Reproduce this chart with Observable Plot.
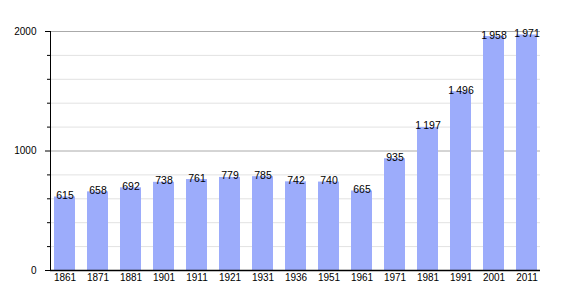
<!DOCTYPE html>
<html>
<head>
<meta charset="utf-8">
<script src="https://cdn.jsdelivr.net/npm/d3@7"></script>
<script src="https://cdn.jsdelivr.net/npm/@observablehq/plot@0.6"></script>
<style>
  html, body { margin: 0; padding: 0; background: #fff; }
  #chart svg { display: block; }
</style>
</head>
<body>
<div id="chart"></div>
<script>
const years = ["1861","1871","1881","1901","1911","1921","1931","1936","1951","1961","1971","1981","1991","2001","2011"];
const population = [615,658,692,738,761,779,785,742,740,665,935,1197,1496,1958,1971];
const majorTicks = [0, 1000, 2000];
const minorTicks = [200, 400, 600, 800, 1200, 1400, 1600, 1800];

const data = years.map((y, i) => ({year: y, pop: population[i]}));
const fmt = v => v >= 1000 ? d3.format(",")(v).replace(",", "\u2009") : String(v);

const chart = Plot.plot({
  width: 570,
  height: 300,
  marginTop: 31,
  marginBottom: 30,
  marginLeft: 50,
  marginRight: 30,
  style: {fontFamily: "'Liberation Sans', Arial, sans-serif", fontSize: "10px", color: "#000", background: "#fff"},
  x: {type: "band", domain: years, paddingInner: 0.373, paddingOuter: 0, label: null},
  y: {domain: [0, 2000], label: null},
  marks: [
    Plot.ruleY(minorTicks, {stroke: "#e2e2e2", strokeWidth: 1}),
    Plot.ruleY([1000, 2000], {stroke: "#aaaaaa", strokeWidth: 1}),
    Plot.barY(data, {x: "year", y: "pop", fill: "#9cacfb"}),
    Plot.text(data, {x: "year", y: "pop", text: d => fmt(d.pop), lineAnchor: "bottom", dy: 2, fill: "#000", fontSize: 10.5}),
    Plot.axisY({ticks: minorTicks, tickSize: 3, text: null, stroke: "#000"}),
    Plot.axisY({ticks: majorTicks, tickSize: 5, tickPadding: 9, tickFormat: d => String(d), fontSize: 10}),
    Plot.axisX({tickSize: 0, tickPadding: 3, fontSize: 10}),
    Plot.frame({anchor: "left", stroke: "#000"}),
    Plot.ruleY([0], {stroke: "#000", strokeWidth: 1.5})
  ]
});
document.getElementById("chart").appendChild(chart);
</script>
</body>
</html>
